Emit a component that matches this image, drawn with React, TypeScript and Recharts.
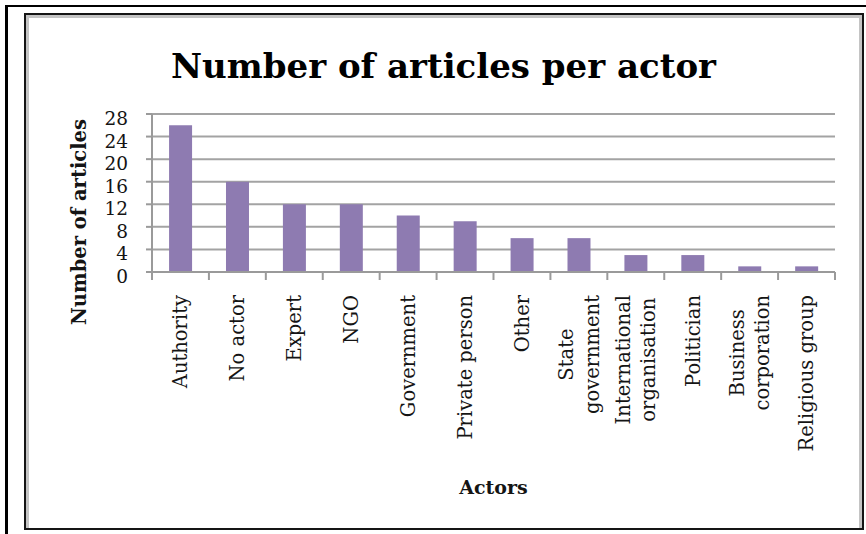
import React from 'react';
import { BarChart, Bar, XAxis, YAxis, CartesianGrid } from 'recharts';

const actors = [
  'Authority',
  'No actor',
  'Expert',
  'NGO',
  'Government',
  'Private person',
  'Other',
  'State government',
  'International organisation',
  'Politician',
  'Business corporation',
  'Religious group',
];
const tickLabels = [
  ['Authority'],
  ['No actor'],
  ['Expert'],
  ['NGO'],
  ['Government'],
  ['Private person'],
  ['Other'],
  ['State', 'government'],
  ['International', 'organisation'],
  ['Politician'],
  ['Business', 'corporation'],
  ['Religious group'],
];
const articles = [26, 16, 12, 12, 10, 9, 6, 6, 3, 3, 1, 1];
const yTicks = [0, 4, 8, 12, 16, 20, 24, 28];

const data = actors.map((a, i) => ({ actor: a, articles: articles[i] }));

const W = 866;
const H = 534;
const MARGIN = { top: 114, right: 31, left: 0, bottom: 0 };
const Y_AXIS_W = 152;
const PLOT_W = W - MARGIN.left - MARGIN.right - Y_AXIS_W;
const BAND = PLOT_W / actors.length;
const SERIF = '"DejaVu Serif", serif';
const X_FONT = 19.5;
const LINE_H = 25.5;
const GRID = '#a3a3a3';
const AXIS = '#9a9a9a';
const TEXT = '#141414';

let ctx: CanvasRenderingContext2D | null = null;
function measure(s: string, font: string): number {
  if (!ctx) ctx = document.createElement('canvas').getContext('2d');
  if (!ctx) return s.length * 10;
  ctx.font = font;
  return ctx.measureText(s).width;
}

const XTick = (props: any) => {
  const { x, y, payload } = props;
  const idx = actors.indexOf(payload.value);
  const lines = tickLabels[idx] || [String(payload.value)];
  const font = `${X_FONT}px "DejaVu Serif"`;
  const maxW = Math.max(...lines.map((l) => measure(l, font)));
  const n = lines.length;
  return (
    <g>
      <line x1={x - BAND / 2} x2={x - BAND / 2} y1={y} y2={y + 8} stroke={AXIS} strokeWidth={2} />
      {idx === actors.length - 1 && (
        <line x1={x + BAND / 2} x2={x + BAND / 2} y1={y} y2={y + 8} stroke={AXIS} strokeWidth={2} />
      )}
      <g transform={`translate(${x},${y + 23}) rotate(-90)`}>
        {lines.map((l, i) => (
          <text
            key={i}
            x={-maxW / 2}
            y={(i - (n - 1) / 2) * LINE_H}
            dy="0.355em"
            textAnchor="middle"
            fontFamily={SERIF}
            fontSize={X_FONT}
            fill={TEXT}
          >
            {l}
          </text>
        ))}
      </g>
    </g>
  );
};

const YTick = (props: any) => {
  const { x, y, payload } = props;
  return (
    <text x={x} y={y} dy={11} textAnchor="end" fontFamily={SERIF} fontSize={18.5} fill={TEXT}>
      {payload.value}
    </text>
  );
};

export default function App() {
  return (
    <div style={{ position: 'absolute', left: 0, top: 0, width: W, height: H, background: '#fff', overflow: 'hidden' }}>
      <div
        style={{
          position: 'absolute',
          left: 5,
          top: 5,
          width: W - 5,
          height: H - 5,
          boxSizing: 'border-box',
          borderLeft: '3px solid #000',
          borderTop: '2.5px solid #000',
        }}
      />
      <div
        style={{
          position: 'absolute',
          left: 24,
          top: 13,
          width: 840,
          height: 517,
          boxSizing: 'border-box',
          border: '2.5px solid #151515',
          boxShadow: 'inset 3px 3px 0 #c4c4c4, inset -3px 0 0 #c4c4c4',
        }}
      />
      <div style={{ position: 'absolute', left: 0, top: 0 }}>
        <BarChart width={W} height={H} data={data} margin={MARGIN} barCategoryGap="30%">
          <CartesianGrid vertical={false} stroke={GRID} strokeWidth={2} />
          <XAxis
            dataKey="actor"
            interval={0}
            height={H - 272}
            tickSize={0}
            tickMargin={0}
            tickLine={false}
            axisLine={{ stroke: AXIS, strokeWidth: 2 }}
            tick={<XTick />}
            label={{
              content: (p: any) => {
                const vb = p.viewBox;
                return (
                  <text
                    x={vb.x + vb.width / 2}
                    y={vb.y + 222}
                    textAnchor="middle"
                    fontFamily={SERIF}
                    fontWeight="bold"
                    fontSize={19}
                    fill={TEXT}
                  >
                    Actors
                  </text>
                );
              },
            }}
          />
          <YAxis
            width={Y_AXIS_W}
            domain={[0, 28]}
            ticks={yTicks}
            interval={0}
            tickSize={6}
            tickMargin={18}
            tickLine={{ stroke: AXIS, strokeWidth: 2 }}
            axisLine={{ stroke: AXIS, strokeWidth: 2 }}
            tick={<YTick />}
            label={{
              content: (p: any) => {
                const vb = p.viewBox;
                const cx = vb.x + 79;
                const cy = vb.y + vb.height / 2 + 29;
                return (
                  <text
                    x={cx}
                    y={cy}
                    dy="0.355em"
                    transform={`rotate(-90, ${cx}, ${cy})`}
                    textAnchor="middle"
                    fontFamily={SERIF}
                    fontWeight="bold"
                    fontSize={19.5}
                    fill={TEXT}
                  >
                    Number of articles
                  </text>
                );
              },
            }}
          />
          <Bar dataKey="articles" fill="#8E7BB1" isAnimationActive={false} />
        </BarChart>
      </div>
      <svg width={W} height={H} style={{ position: 'absolute', left: 0, top: 0, pointerEvents: 'none' }}>
        <text x={443.5} y={78} textAnchor="middle" fontFamily={SERIF} fontWeight="bold" fontSize={34} fill="#000">
          Number of articles per actor
        </text>
      </svg>
    </div>
  );
}
